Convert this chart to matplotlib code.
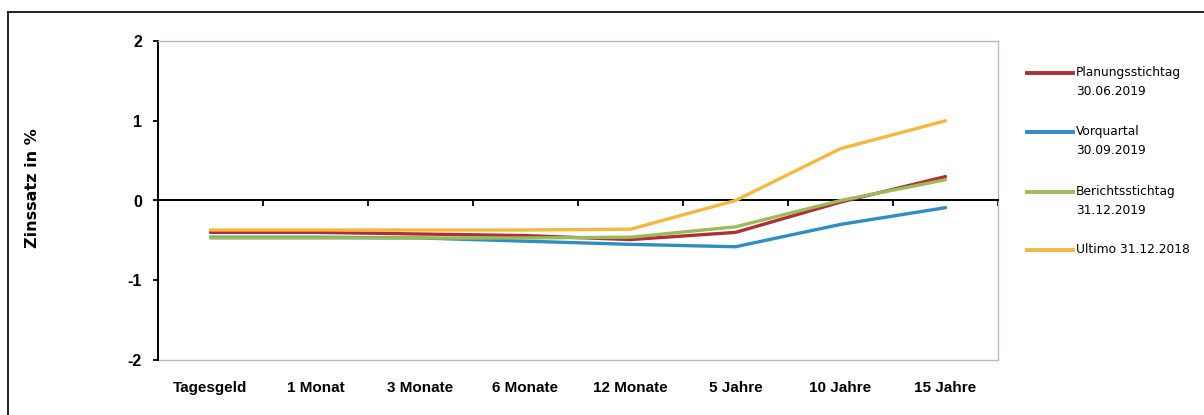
import numpy as np
import matplotlib.pyplot as plt
from matplotlib.lines import Line2D
from matplotlib.patches import Rectangle

plt.rcParams["font.family"] = ["Liberation Sans", "DejaVu Sans"]

# Laufzeiten (x-Kategorien)
CATEGORIES = ["Tagesgeld", "1 Monat", "3 Monate", "6 Monate", "12 Monate",
              "5 Jahre", "10 Jahre", "15 Jahre"]

# Zinssätze in % je Stichtag
PLANUNG = [-0.40, -0.40, -0.42, -0.44, -0.49, -0.40, -0.02, 0.30]
VORQUARTAL = [-0.46, -0.46, -0.47, -0.51, -0.55, -0.58, -0.30, -0.09]
BERICHT = [-0.47, -0.47, -0.47, -0.47, -0.46, -0.33, 0.00, 0.26]
ULTIMO = [-0.37, -0.37, -0.37, -0.37, -0.36, 0.00, 0.65, 1.00]

SERIES_LABELS = ["Planungsstichtag\n30.06.2019", "Vorquartal\n30.09.2019",
                 "Berichtsstichtag\n31.12.2019", "Ultimo 31.12.2018"]
SERIES_COLORS = ["#B02E34", "#2F8CC4", "#9BBB59", "#F4B740"]

Y_TICKS = [-2, -1, 0, 1, 2]


def main():
    fig = plt.figure(figsize=(12.04, 4.15), dpi=100)
    ax = fig.add_axes([158 / 1204, 1 - 360 / 415, 840 / 1204, 319 / 415])

    x = np.arange(len(CATEGORIES))
    series = [PLANUNG, VORQUARTAL, BERICHT, ULTIMO]
    # draw in this order so orange is on top like the original
    for vals, col in zip(series, SERIES_COLORS):
        ax.plot(x, vals, color=col, linewidth=2.4, solid_capstyle="round", zorder=3)

    ax.set_xlim(-0.5, len(CATEGORIES) - 0.5)
    ax.set_ylim(-2, 2)

    # y axis
    ax.set_yticks(Y_TICKS)
    ax.set_yticklabels([str(v) for v in Y_TICKS], fontsize=11.5, fontweight="bold")
    ax.tick_params(axis="y", direction="out", length=3.6, width=1.3, pad=8)
    ax.set_ylabel("Zinssatz in %", fontsize=11.5, fontweight="bold",
                  family=["DejaVu Sans"])
    ax.yaxis.set_label_coords(-0.140, 0.539)

    # spines: black left, zero line as x axis, light frame elsewhere
    ax.spines["left"].set_linewidth(1.4)
    ax.spines["left"].set_color("black")
    ax.spines["bottom"].set_position(("data", 0))
    ax.spines["bottom"].set_linewidth(1.4)
    ax.spines["bottom"].set_color("black")
    for s in ["top", "right"]:
        ax.spines[s].set_color("#A9BECB")
        ax.spines[s].set_linewidth(1.0)

    # tick marks on the zero line at category boundaries
    ax.set_xticks(np.arange(-0.5, len(CATEGORIES), 1.0))
    ax.set_xticklabels([])
    ax.tick_params(axis="x", direction="out", length=4, width=1.3)

    # category labels at the bottom of the plot area
    sec = ax.secondary_xaxis(0.0)
    sec.set_xticks(x)
    sec.set_xticklabels(CATEGORIES, fontsize=11, fontweight="bold")
    sec.tick_params(length=0, pad=15)
    sec.spines["bottom"].set_color("#A9BECB")
    sec.spines["bottom"].set_linewidth(1.0)

    # legend drawn by hand to keep the line next to the first text row
    leg_y = [73, 132, 192, 250]
    for lab, col, yp in zip(SERIES_LABELS, SERIES_COLORS, leg_y):
        yf = 1 - yp / 415
        fig.add_artist(Line2D([1027 / 1204, 1073 / 1204], [yf, yf], color=col,
                              linewidth=2.8, transform=fig.transFigure))
        fig.text(1076 / 1204, yf + 7 / 415, lab, fontsize=8.8, va="top", ha="left",
                 linespacing=1.6, family=["DejaVu Sans"])

    # outer frame of the original picture
    fig.add_artist(Rectangle((8 / 1204, -0.1), 1.2, 1 - 12 / 415 + 0.1,
                             transform=fig.transFigure, fill=False,
                             edgecolor="#222222", linewidth=1.4))

    fig.savefig("out.png", dpi=100)


if __name__ == "__main__":
    main()
